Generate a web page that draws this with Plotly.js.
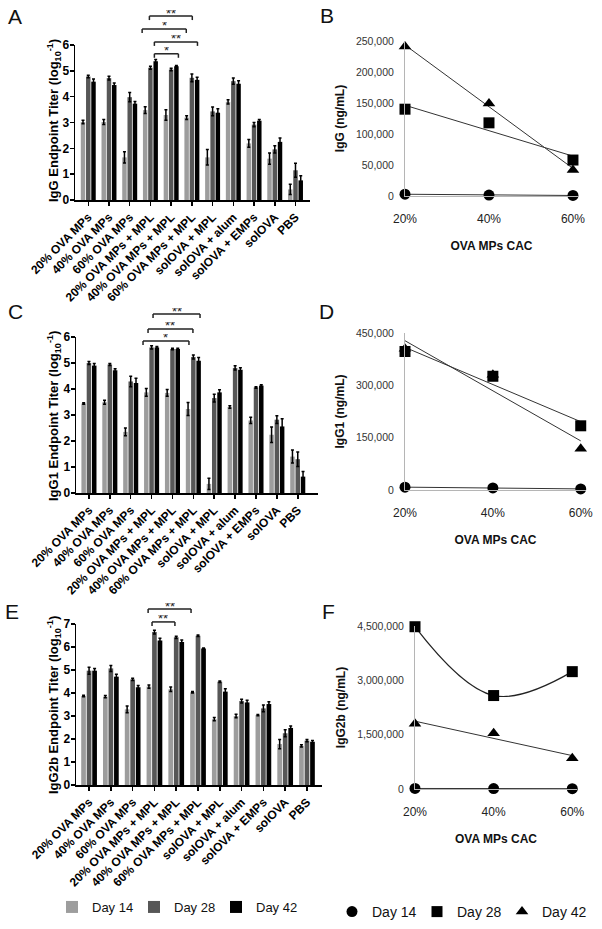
<!DOCTYPE html>
<html>
<head>
<meta charset="utf-8">
<script src="https://cdn.plot.ly/plotly-3.0.1.min.js"></script>
<style>body{margin:0;background:#fff}</style>
</head>
<body>
<div id="tester" style="width:602px;height:929px"></div>
<script>
var W = 602, H = 929;
function px(x) { return x / W; }
function py(y) { return 1 - y / H; }
var FONT = 'Liberation Sans, Arial, sans-serif';

var groups = ['20% OVA MPs', '40% OVA MPs', '60% OVA MPs', '20% OVA MPs + MPL', '40% OVA MPs + MPL',
  '60% OVA MPs + MPL', 'solOVA + MPL', 'solOVA + alum', 'solOVA + EMPs', 'solOVA', 'PBS'];
var days = ['Day 14', 'Day 28', 'Day 42'];
var barColors = ['#9d9d9d', '#575757', '#000000'];

// IgG endpoint titer (log10)
var iggD14 = [3.02, 3.02, 1.65, 3.48, 3.29, 3.19, 1.65, 3.8, 2.19, 1.6, 0.41];
var iggD14Err = [0.07, 0.1, 0.22, 0.13, 0.2, 0.07, 0.3, 0.08, 0.15, 0.22, 0.2];
var iggD28 = [4.78, 4.72, 3.98, 5.12, 5.05, 4.73, 3.43, 4.6, 2.92, 1.96, 1.15];
var iggD28Err = [0.05, 0.07, 0.18, 0.06, 0.05, 0.15, 0.17, 0.12, 0.08, 0.14, 0.27];
var iggD42 = [4.58, 4.45, 3.73, 5.37, 5.18, 4.65, 3.38, 4.5, 3.07, 2.25, 0.76];
var iggD42Err = [0.1, 0.08, 0.08, 0.07, 0.03, 0.1, 0.15, 0.12, 0.05, 0.15, 0.18];

// IgG1 endpoint titer (log10)
var igg1D14 = [3.44, 3.49, 2.35, 3.87, 3.85, 3.23, 0.35, 3.31, 2.79, 2.24, 1.4];
var igg1D14Err = [0.03, 0.08, 0.15, 0.15, 0.13, 0.25, 0.22, 0.05, 0.12, 0.3, 0.25];
var igg1D28 = [5.0, 4.94, 4.29, 5.6, 5.54, 5.23, 3.65, 4.81, 4.06, 2.82, 1.3];
var igg1D28Err = [0.06, 0.04, 0.2, 0.06, 0.03, 0.08, 0.15, 0.08, 0.03, 0.15, 0.28];
var igg1D42 = [4.9, 4.72, 4.23, 5.6, 5.54, 5.09, 3.87, 4.74, 4.13, 2.56, 0.63];
var igg1D42Err = [0.08, 0.06, 0.18, 0.03, 0.03, 0.12, 0.1, 0.08, 0.03, 0.3, 0.2];

// IgG2b endpoint titer (log10)
var igg2bD14 = [3.87, 3.84, 3.29, 4.28, 4.16, 4.03, 2.86, 3.0, 3.04, 1.78, 1.7];
var igg2bD14Err = [0.03, 0.05, 0.15, 0.07, 0.1, 0.03, 0.07, 0.08, 0.03, 0.2, 0.05];
var igg2bD28 = [4.97, 5.07, 4.59, 6.65, 6.42, 6.49, 4.49, 3.65, 3.33, 2.25, 1.93];
var igg2bD28Err = [0.15, 0.13, 0.05, 0.08, 0.05, 0.03, 0.03, 0.08, 0.15, 0.15, 0.05];
var igg2bD42 = [4.97, 4.71, 4.25, 6.28, 6.22, 5.94, 4.06, 3.59, 3.52, 2.48, 1.88];
var igg2bD42Err = [0.1, 0.1, 0.08, 0.1, 0.08, 0.02, 0.12, 0.1, 0.1, 0.08, 0.05];

// ng/mL by OVA MPs CAC
var cac = ['20%', '40%', '60%'];
var iggNgD14 = [3000, 1500, 1000];
var iggNgD28 = [140000, 118000, 58000];
var iggNgD42 = [241000, 149000, 42000];
var igg1NgD14 = [8000, 6000, 3000];
var igg1NgD28 = [397000, 326000, 184000];
var igg1NgD42 = [405000, 330000, 118000];
var igg2bNgD14 = [15000, 12000, 10000];
var igg2bNgD28 = [4480000, 2580000, 3240000];
var igg2bNgD42 = [1800000, 1540000, 850000];

var symbols = ['circle', 'square', 'triangle-up'];

// significance brackets: [from, to, level (axis units), label]
var sigA = [[2.95, 5.02, 7.12, '**'], [2.6, 4.73, 6.62, '*'], [3.19, 5.27, 6.12, '**'], [3.19, 4.35, 5.66, '*']];
var sigC = [[3.07, 5.32, 6.88, '**'], [2.83, 4.98, 6.31, '**'], [2.59, 4.79, 5.85, '*']];
var sigE = [[2.71, 4.68, 7.65, '**'], [2.89, 3.94, 7.09, '**']];

var data = [];
var shapes = [];
var annotations = [];

function addBars(sets, errs, n, legend) {
  sets.forEach(function (vals, k) {
    data.push({
      type: 'bar', x: groups, y: vals, name: days[k],
      xaxis: 'x' + n, yaxis: 'y' + n,
      marker: {color: barColors[k], line: {width: 0}},
      error_y: {type: 'data', array: errs[k], color: '#000', thickness: 1.5, width: 1.5},
      showlegend: legend, legend: 'legend'
    });
  });
}

function linFit(ys) {
  var n = ys.length, mx = (n - 1) / 2, my = 0, sxy = 0, sxx = 0;
  ys.forEach(function (y) { my += y / n; });
  ys.forEach(function (y, i) { sxy += (i - mx) * (y - my); sxx += (i - mx) * (i - mx); });
  var b = sxy / sxx;
  return [my - b * mx, my + b * mx];
}

function addLines(sets, n, legend, splineIdx) {
  sets.forEach(function (vals, k) {
    if (k === splineIdx) {
      data.push({type: 'scatter', mode: 'lines', x: cac, y: vals, xaxis: 'x' + n, yaxis: 'y' + n,
        line: {color: '#222', width: 1.2, shape: 'spline', smoothing: 1.1}, showlegend: false,
        hoverinfo: 'skip', cliponaxis: false});
    } else {
      data.push({type: 'scatter', mode: 'lines', x: [cac[0], cac[cac.length - 1]], y: linFit(vals),
        xaxis: 'x' + n, yaxis: 'y' + n, line: {color: '#333', width: 1}, showlegend: false,
        hoverinfo: 'skip', cliponaxis: false});
    }
  });
  sets.forEach(function (vals, k) {
    data.push({type: 'scatter', mode: 'markers', x: cac, y: vals, name: days[k],
      xaxis: 'x' + n, yaxis: 'y' + n, cliponaxis: false,
      marker: {symbol: symbols[k], size: 11, color: '#000'},
      showlegend: legend, legend: 'legend2'});
  });
}

function addSig(list, n, dom, rng) {
  list.forEach(function (s) {
    var yp = dom[0] + (s[2] - rng[0]) / (rng[1] - rng[0]) * (dom[1] - dom[0]);
    var leg = 4 / H;
    var base = {xref: 'x' + n, yref: 'paper', line: {color: '#222', width: 1.5}};
    shapes.push(Object.assign({type: 'line', x0: s[0], x1: s[1], y0: yp, y1: yp}, base));
    shapes.push(Object.assign({type: 'line', x0: s[0], x1: s[0], y0: yp - leg, y1: yp}, base));
    shapes.push(Object.assign({type: 'line', x0: s[1], x1: s[1], y0: yp - leg, y1: yp}, base));
    annotations.push({xref: 'x' + n, yref: 'paper', x: (s[0] + s[1]) / 2, y: yp, yshift: 3,
      text: s[3], showarrow: false, yanchor: 'middle', height: 7, borderpad: 0,
      font: {family: FONT, size: 13, color: '#222'}});
  });
}

addBars([iggD14, iggD28, iggD42], [iggD14Err, iggD28Err, iggD42Err], '', true);
addLines([iggNgD14, iggNgD28, iggNgD42], 2, false, -1);
addBars([igg1D14, igg1D28, igg1D42], [igg1D14Err, igg1D28Err, igg1D42Err], 3, false);
addLines([igg1NgD14, igg1NgD28, igg1NgD42], 4, false, -1);
addBars([igg2bD14, igg2bD28, igg2bD42], [igg2bD14Err, igg2bD28Err, igg2bD42Err], 5, false);
addLines([igg2bNgD14, igg2bNgD28, igg2bNgD42], 6, true, 1);

var domA = [py(200), py(45)], domC = [py(493), py(337)], domE = [py(785), py(624)];
addSig(sigA, '', domA, [0, 6]);
addSig(sigC, 3, domC, [0, 6]);
addSig(sigE, 5, domE, [0, 7]);

// y titles of the titer panels, placed as rotated text
var titerTitles = [['IgG', 121], ['IgG1', 416], ['IgG2b', 705]];
titerTitles.forEach(function (t) {
  annotations.push({xref: 'paper', yref: 'paper', x: px(54), y: py(t[1]), textangle: -90,
    text: '<b>' + t[0] + ' Endpoint Titer (log<sub>10</sub><sup>-1</sup>)</b>', showarrow: false,
    xanchor: 'center', yanchor: 'middle', font: {family: FONT, size: 13, color: '#000'}});
});

function barX(d0, d1, r) {
  return {domain: [px(d0), px(d1)], range: r, type: 'category', categoryorder: 'array',
    categoryarray: groups, tickangle: -45,
    ticks: 'outside', ticklen: 4, tickwidth: 1.5, tickcolor: '#000',
    showline: true, linewidth: 1.5, linecolor: '#000', showgrid: false, zeroline: false,
    tickfont: {family: FONT, size: 12, weight: 700, color: '#000'}};
}
function barY(dom, r) {
  return {domain: dom, range: r, dtick: 1, ticks: 'outside', ticklen: 4, tickwidth: 1.5,
    tickcolor: '#000', showline: true, linewidth: 1.5, linecolor: '#000', showgrid: false,
    zeroline: false, ticklabelstandoff: -2,
    tickfont: {family: FONT, size: 12, weight: 700, color: '#000'}};
}
function lineX(d0, d1) {
  return {domain: [px(d0), px(d1)], range: [0, 2.06], type: 'category', categoryorder: 'array',
    categoryarray: cac, showline: true,
    linecolor: '#b5b5b5', linewidth: 1, ticks: '', ticklabelstandoff: 12, showgrid: false,
    zeroline: false, tickfont: {family: FONT, size: 12, color: '#222'},
    title: {text: 'OVA MPs CAC', font: {family: FONT, size: 12, weight: 700, color: '#111'}, standoff: 16}};
}
function lineY(dom, max, step, title) {
  return {domain: dom, range: [0, max], dtick: step, tickformat: ',d', showline: true,
    linecolor: '#b5b5b5', linewidth: 1, ticks: '', ticklabelstandoff: 8, showgrid: false,
    zeroline: false, tickfont: {family: FONT, size: 10.5, color: '#333'},
    title: {text: title + ' (ng/mL)', font: {family: FONT, size: 12, weight: 700, color: '#111'}, standoff: 8}};
}

var letters = [['A', 15, 17], ['B', 327, 16], ['C', 15, 311], ['D', 327, 311], ['E', 12, 611], ['F', 328, 611]];
letters.forEach(function (l) {
  annotations.push({xref: 'paper', yref: 'paper', x: px(l[1]), y: py(l[2]), text: l[0], showarrow: false,
    xanchor: 'center', yanchor: 'middle', font: {family: FONT, size: 21, color: '#111'}});
});

var layout = {
  width: W, height: H, margin: {l: 0, r: 0, t: 0, b: 0},
  paper_bgcolor: '#fff', plot_bgcolor: 'rgba(0,0,0,0)',
  font: {family: FONT, color: '#000'},
  barmode: 'group', bargap: 0.24, bargroupgap: 0.15,
  xaxis: barX(75, 310, [-0.64, 10.7]), yaxis: barY(domA, [0, 6]),
  xaxis2: Object.assign(lineX(405, 578), {anchor: 'y2'}),
  yaxis2: Object.assign(lineY([py(196), py(41)], 250000, 50000, 'IgG'), {anchor: 'x2'}),
  xaxis3: Object.assign(barX(76, 318, [-0.62, 10.97]), {anchor: 'y3'}),
  yaxis3: Object.assign(barY(domC, [0, 6]), {anchor: 'x3'}),
  xaxis4: Object.assign(lineX(405, 586), {anchor: 'y4'}),
  yaxis4: Object.assign(lineY([py(490), py(333)], 450000, 150000, 'IgG1'), {anchor: 'x4'}),
  xaxis5: Object.assign(barX(76, 322, [-0.6, 10.69]), {anchor: 'y5'}),
  yaxis5: Object.assign(barY(domE, [0, 7]), {anchor: 'x5'}),
  xaxis6: Object.assign(lineX(415, 577), {anchor: 'y6'}),
  yaxis6: Object.assign(lineY([py(789), py(626)], 4500000, 1500000, 'IgG2b'), {anchor: 'x6'}),
  legend: {orientation: 'h', x: px(52), y: py(907), xanchor: 'left', yanchor: 'middle',
    font: {family: FONT, size: 13, color: '#111'}, entrywidth: 37, entrywidthmode: 'pixels',
    bgcolor: 'rgba(0,0,0,0)', traceorder: 'normal'},
  legend2: {orientation: 'h', x: px(332), y: py(912), xanchor: 'left', yanchor: 'middle',
    font: {family: FONT, size: 14, color: '#111'}, entrywidth: 40, entrywidthmode: 'pixels',
    bgcolor: 'rgba(0,0,0,0)', traceorder: 'normal'},
  shapes: shapes,
  annotations: annotations
};

Plotly.newPlot(document.getElementById('tester'), data, layout, {displayModeBar: false, staticPlot: true});
</script>
</body>
</html>
